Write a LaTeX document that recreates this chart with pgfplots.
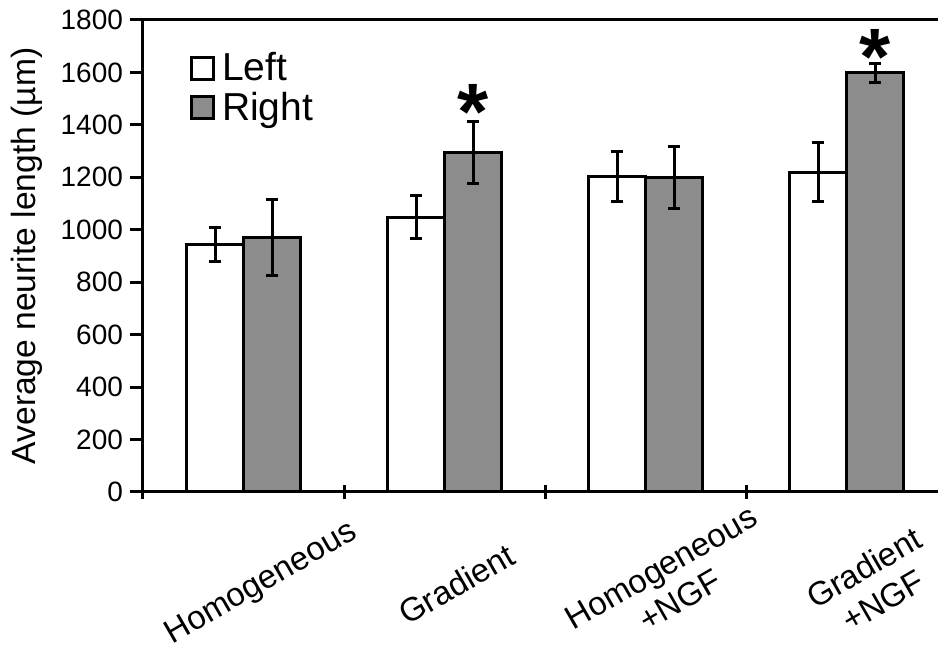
\documentclass[border=0pt]{standalone}
\usepackage{pgfplots}
\pgfplotsset{compat=1.18}
\usepackage{fontspec}
\setmainfont{Liberation Sans}
\definecolor{bargray}{RGB}{140,140,140}
\begin{document}
\begin{tikzpicture}
\begin{axis}[
  name=ax,
  scale only axis,
  width=397.5pt, height=236pt,
  xmin=-0.5, xmax=3.455,
  ymin=0, ymax=1800,
  enlargelimits=false,
  clip=false,
  axis x line*=bottom,
  axis y line*=left,
  axis line style={line width=1.5pt, -},
  ybar=0pt,
  bar width=28.5pt,
  ytick={0,200,...,1800},
  yticklabel style={font=\fontsize{14}{14}\selectfont, /pgf/number format/assume math mode=true, /pgf/number format/1000 sep={}},
  ytick align=outside,
  tick style={line width=1.5pt, black},
  major tick length=6.5pt,
  xtick={-0.5,0.5,1.5,2.5},
  xticklabels={},
  xtick align=center,
  extra x ticks={0.09,1.06,2.125,3.134},
  extra x tick labels={Homogeneous, Gradient, {Homogeneous\\+NGF}, {Gradient\\+NGF}},
  extra x tick style={major tick length=0pt},
  xticklabel style={font=\fontsize{16.5}{19}\selectfont, align=center, anchor=center, rotate=30},
  xticklabel shift=46pt,
  ylabel={Average neurite length (µm)},
  every axis y label/.style={at={(axis description cs:-0.146,0.5)}, rotate=90, anchor=center, font=\fontsize{16.8}{17}\selectfont},
  legend style={at={(axis description cs:0.058,0.94)}, anchor=north west, draw=none, fill=none, font=\fontsize{19.5}{20.5}\selectfont, inner sep=0pt, row sep=0pt},
  legend cell align=left,
  legend image code/.code={\draw[#1, line width=1.5pt] (0pt,-5.5pt) rectangle (11pt,5.5pt); \path[draw=none, fill=none] (0pt,0pt) -- (13.5pt,0pt);},
  error bars/y dir=both, error bars/y explicit,
  error bars/error bar style={line width=1.5pt, black},
  error bars/error mark options={rotate=90, mark size=3pt, line width=1.5pt, black},
]
\addplot[draw=black, line width=1.5pt, fill=white] coordinates {
  (0,945) +- (0,65)
  (1,1047) +- (0,82)
  (2,1203) +- (0,95)
  (3,1220) +- (0,113)
};
\addlegendentry{Left}
\addplot[draw=black, line width=1.5pt, fill=bargray] coordinates {
  (0,970) +- (0,145)
  (1,1295) +- (0,117)
  (2,1200) +- (0,117)
  (3,1598) +- (0,38)
};
\addlegendentry{Right}
\draw[line width=1.5pt] (rel axis cs:0,1) -- (rel axis cs:1,1);
\node[font=\fontsize{40}{40}\selectfont\bfseries, inner sep=0pt] at (axis cs:1.142,1450) {*};
\node[font=\fontsize{40}{40}\selectfont\bfseries, inner sep=0pt] at (axis cs:3.142,1660) {*};
\end{axis}
\pgfresetboundingbox
\path[use as bounding box] (ax.south west) ++(-71.5pt,-78pt) rectangle ++(469pt,324pt);
\end{tikzpicture}
\end{document}
